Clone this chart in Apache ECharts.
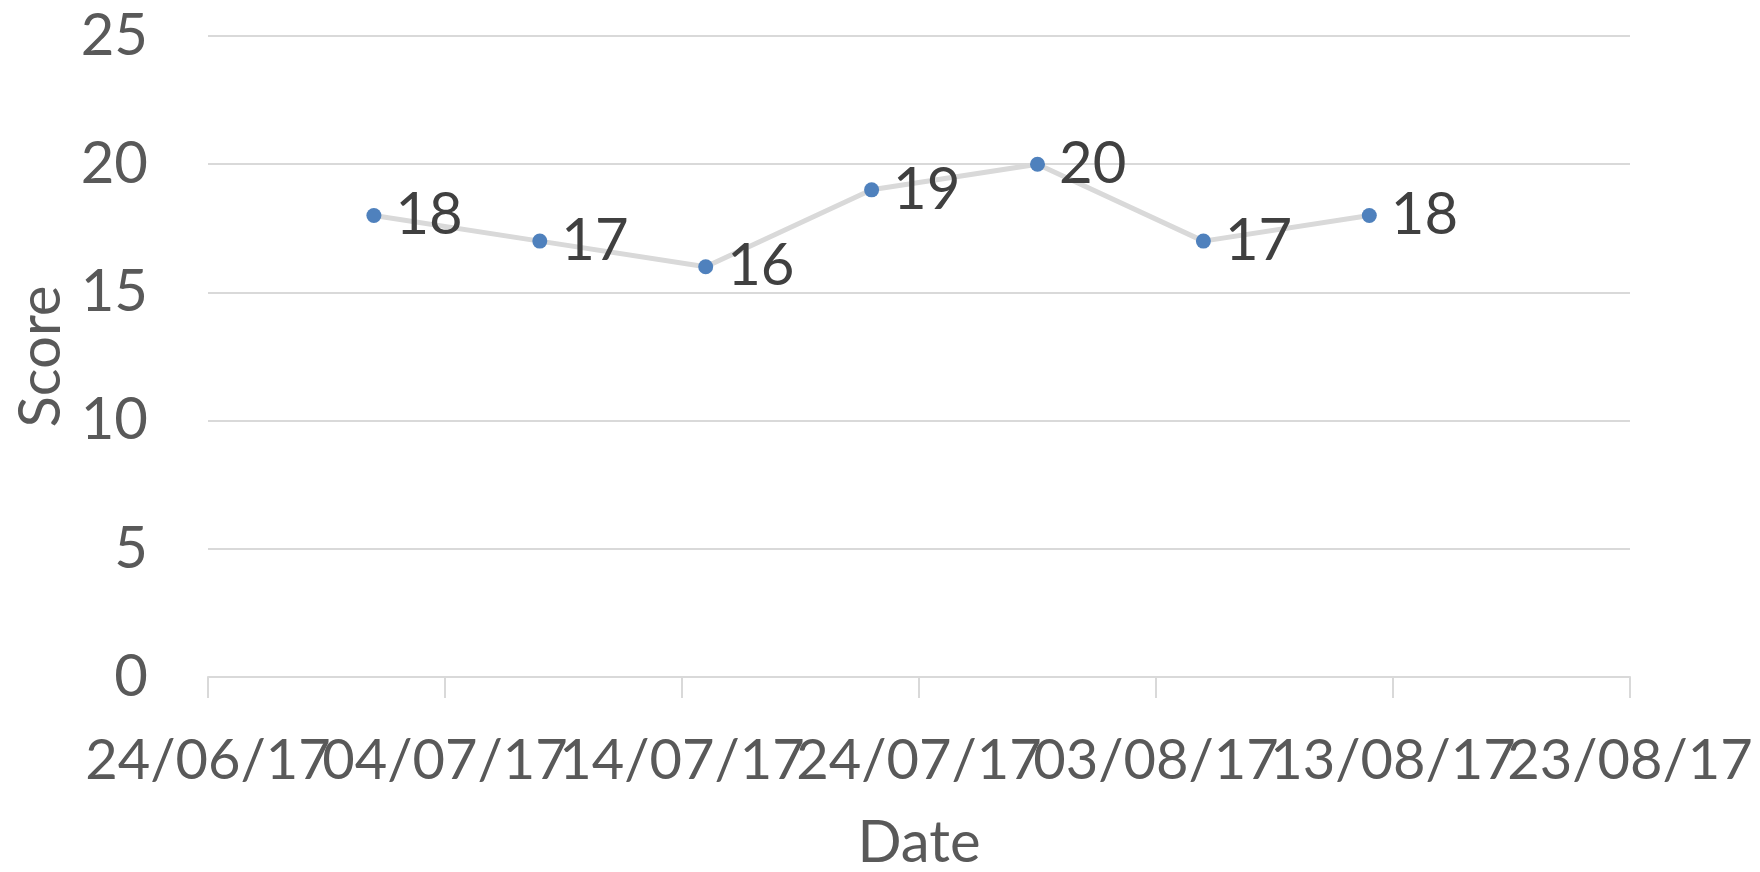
<!DOCTYPE html>
<html>
<head>
<meta charset="utf-8">
<script src="https://cdn.jsdelivr.net/npm/echarts@6/dist/echarts.min.js"></script>
<style>
  html, body { margin: 0; padding: 0; background: #ffffff; }
  #chart { width: 1760px; height: 872px; }
</style>
</head>
<body>
<div id="chart"></div>
<script>
// Weekly scores (dd/mm/yy)
const dates = ['01/07/17', '08/07/17', '15/07/17', '22/07/17', '29/07/17', '05/08/17', '12/08/17'];
const scores = [18, 17, 16, 19, 20, 17, 18];

// Date axis range and tick step (days)
const axisStart = '24/06/17';
const axisEnd = '23/08/17';
const tickStepDays = 10;

// Score axis
const scoreMin = 0;
const scoreMax = 25;
const scoreStep = 5;

const DAY = 86400000;
function parseDate(s) {
  const [d, m, y] = s.split('/').map(Number);
  return Date.UTC(2000 + y, m - 1, d);
}
const startMs = parseDate(axisStart);
const dayOffset = s => Math.round((parseDate(s) - startMs) / DAY);
function formatOffset(days) {
  const dt = new Date(startMs + days * DAY);
  const dd = String(dt.getUTCDate()).padStart(2, '0');
  const mm = String(dt.getUTCMonth() + 1).padStart(2, '0');
  const yy = String(dt.getUTCFullYear() % 100).padStart(2, '0');
  return dd + '/' + mm + '/' + yy;
}

const points = dates.map((d, i) => [dayOffset(d), scores[i]]);
const xMax = dayOffset(axisEnd);

const FONT = 'Lato';
const labelBase = {
  fontFamily: FONT, fontSize: 56, color: '#595959', margin: 56,
  hideOverlap: false,
  showMinLabel: true,
  showMaxLabel: true,
  alignMinLabel: 'center',
  alignMaxLabel: 'center'
};
// The date labels are wide and run into each other; alternate ticks are
// labelled by two overlaid axes so none of them gets dropped.
const tickIndex = v => Math.round(v / tickStepDays);

const chart = echarts.init(document.getElementById('chart'), null, { renderer: 'canvas' });
chart.setOption({
  animation: false,
  backgroundColor: '#ffffff',
  grid: { left: 208, right: 130, top: 36, bottom: 195, containLabel: false, outerBoundsMode: 'none' },
  xAxis: [{
    type: 'value',
    min: 0,
    max: xMax,
    interval: tickStepDays,
    name: 'Date',
    nameLocation: 'middle',
    nameGap: 137,
    nameTextStyle: { fontFamily: FONT, fontSize: 58, color: '#595959' },
    axisLine: { show: true, lineStyle: { color: '#d9d9d9', width: 2 } },
    axisTick: { show: true, length: 21, lineStyle: { color: '#d9d9d9', width: 2 } },
    splitLine: { show: false },
    axisLabel: Object.assign({}, labelBase, {
      formatter: v => (tickIndex(v) % 2 === 0 ? formatOffset(v) : '')
    })
  }, {
    type: 'value',
    position: 'bottom',
    min: 0,
    max: xMax,
    interval: tickStepDays,
    axisLine: { show: false },
    axisTick: { show: true, length: 21, lineStyle: { color: '#d9d9d9', width: 2 } },
    splitLine: { show: false },
    axisLabel: Object.assign({}, labelBase, {
      formatter: v => (tickIndex(v) % 2 === 1 ? formatOffset(v) : '')
    })
  }],
  yAxis: {
    type: 'value',
    min: scoreMin,
    max: scoreMax,
    interval: scoreStep,
    name: 'Score',
    nameLocation: 'middle',
    nameGap: 138,
    nameTextStyle: { fontFamily: FONT, fontSize: 58, color: '#595959' },
    axisLine: { show: false },
    axisTick: { show: false },
    splitLine: { show: true, lineStyle: { color: '#d9d9d9', width: 2 } },
    axisLabel: { fontFamily: FONT, fontSize: 58, color: '#595959', margin: 60 }
  },
  series: [{
    type: 'line',
    xAxisIndex: 0,
    data: points,
    symbol: 'circle',
    symbolSize: 15,
    lineStyle: { color: '#d9d9d9', width: 5 },
    itemStyle: { color: '#4f81bd' },
    label: {
      show: true,
      position: 'right',
      distance: 14,
      fontFamily: FONT,
      fontSize: 58,
      color: '#404040',
      formatter: p => String(p.value[1])
    },
    z: 3
  }]
});
</script>
</body>
</html>
